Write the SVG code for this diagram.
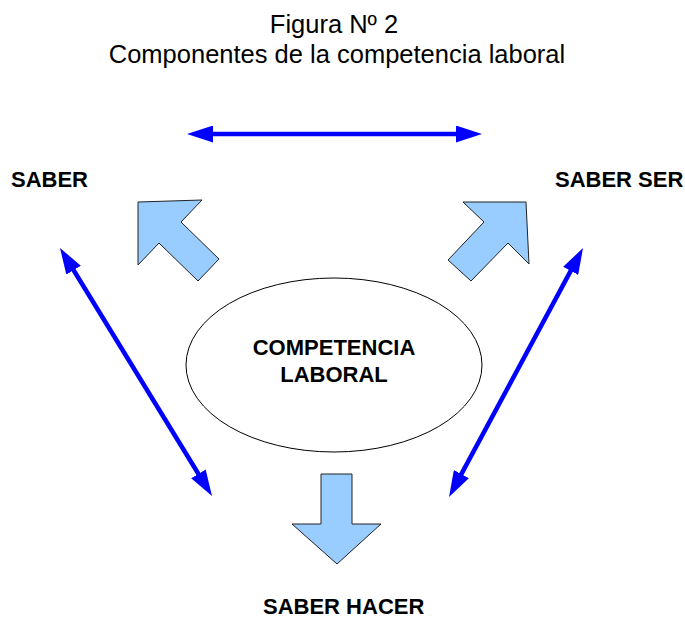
<svg xmlns="http://www.w3.org/2000/svg" width="685" height="619" viewBox="0 0 685 619">
<style>
.title{font-family:"Liberation Sans",Arial,sans-serif;font-size:25.5px;fill:#000;text-anchor:middle}
.lbl{font-family:"Liberation Sans",Arial,sans-serif;font-size:22px;font-weight:bold;fill:#000}
.blk{fill:#99ccff;stroke:#222;stroke-width:1;stroke-linejoin:miter}
.con{stroke:#0000ff;stroke-width:4.5;fill:none;marker-start:url(#ah);marker-end:url(#ah)}
</style>
<defs>
<marker id="ah" markerUnits="userSpaceOnUse" markerWidth="26" markerHeight="17" refX="6" refY="8.5" orient="auto-start-reverse" viewBox="0 0 26 17">
<path d="M0,0 L26,8.5 L0,17 z" fill="#0000ff"/>
</marker>
</defs>
<rect width="685" height="619" fill="#fff"/>
<g id="title">
<text class="title" x="334" y="33">Figura Nº 2</text>
<text class="title" x="337" y="63">Componentes de la competencia laboral</text>
</g>
<g id="connectors">
<line class="con" x1="207" y1="134" x2="462" y2="134"/>
<line class="con" x1="70.45" y1="265.05" x2="201.55" y2="478.95"/>
<line class="con" x1="573.52" y1="265.61" x2="458.52" y2="479.39"/>
</g>
<g id="saber">
<text class="lbl" x="11" y="187">SABER</text>
</g>
<g id="saber-ser">
<text class="lbl" x="555" y="187">SABER SER</text>
</g>
<g id="saber-hacer">
<text class="lbl" x="263" y="614">SABER HACER</text>
</g>
<g id="arrow-saber">
<polygon class="blk" points="138,202 202,200 181,222 219,259 198,281 159,243 138,265"/>
</g>
<g id="arrow-saber-ser">
<polygon class="blk" points="463,202 526,202 529,264 508,243 471,281 448,260 484,222"/>
</g>
<g id="arrow-saber-hacer">
<polygon class="blk" points="321,474 352,474 352,524 381,524 337,564 292,524 321,524"/>
</g>
<g id="competencia">
<ellipse cx="334" cy="365" rx="148" ry="87" fill="#fff" stroke="#000" stroke-width="1"/>
<text class="lbl" x="334" y="355" text-anchor="middle">COMPETENCIA</text>
<text class="lbl" x="334" y="382" text-anchor="middle">LABORAL</text>
</g>
</svg>
